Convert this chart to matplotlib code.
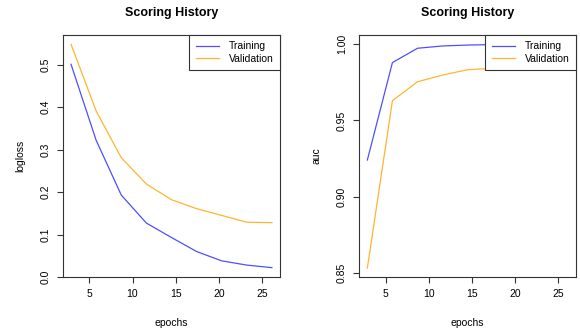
import matplotlib

matplotlib.use("Agg")
import matplotlib.pyplot as plt

epochs = [2.9, 5.8, 8.7, 11.6, 14.5, 17.4, 20.3, 23.2, 26.1]
train_logloss = [0.501, 0.322, 0.193, 0.127, 0.093, 0.060, 0.038, 0.028, 0.022]
valid_logloss = [0.548, 0.391, 0.281, 0.219, 0.182, 0.161, 0.145, 0.129, 0.128]
train_auc = [0.924, 0.988, 0.9974, 0.9989, 0.9995, 0.9998, 0.9999, 1.0, 1.0]
valid_auc = [0.853, 0.963, 0.9754, 0.9798, 0.9833, 0.9842, 0.985, 0.986, 0.986]

x_ticks = [5, 10, 15, 20, 25]
logloss_ticks = [0.0, 0.1, 0.2, 0.3, 0.4, 0.5]
auc_ticks = [0.85, 0.90, 0.95, 1.00]

plt.rcParams["font.family"] = ["Liberation Sans", "DejaVu Sans"]
plt.rcParams["font.size"] = 7.5

fig = plt.figure(figsize=(5.8, 3.34), dpi=100)
ax1 = fig.add_axes([0.1086, 0.1707, 0.3741, 0.7245])
ax2 = fig.add_axes([0.6195, 0.1707, 0.3736, 0.7245])

blue = "#4f4fff"
orange = "#ffb52e"


def style(ax, ylabel, yticks, fmt):
    ax.set_title("Scoring History", fontsize=9, fontweight="bold", pad=14)
    ax.set_xlabel("epochs", labelpad=13)
    ax.set_ylabel(ylabel, labelpad=11)
    ax.set_xticks(x_ticks)
    ax.set_xlim(1.97, 27.03)
    ax.set_yticks(yticks)
    ax.set_yticklabels([fmt.format(v) for v in yticks], rotation=90, va="center")
    ax.tick_params(length=4, width=0.8, pad=5, color="#333333")
    for s in ax.spines.values():
        s.set_edgecolor("#333333")
        s.set_linewidth(0.8)
    leg = ax.legend(loc="upper right", borderaxespad=0, fancybox=False,
                    edgecolor="#333333", framealpha=1, handlelength=2.2,
                    labelspacing=0.25, borderpad=0.6, handletextpad=1.0)
    leg.get_frame().set_linewidth(0.8)


ax1.plot(epochs, train_logloss, color=blue, lw=0.9, label="Training")
ax1.plot(epochs, valid_logloss, color=orange, lw=0.9, label="Validation")
ax1.set_ylim(0.0, 0.57)
style(ax1, "logloss", logloss_ticks, "{:.1f}")

ax2.plot(epochs, train_auc, color=blue, lw=0.9, label="Training")
ax2.plot(epochs, valid_auc, color=orange, lw=0.9, label="Validation")
ax2.set_ylim(0.8472, 1.0061)
style(ax2, "auc", auc_ticks, "{:.2f}")

fig.savefig("out.png", dpi=100)
